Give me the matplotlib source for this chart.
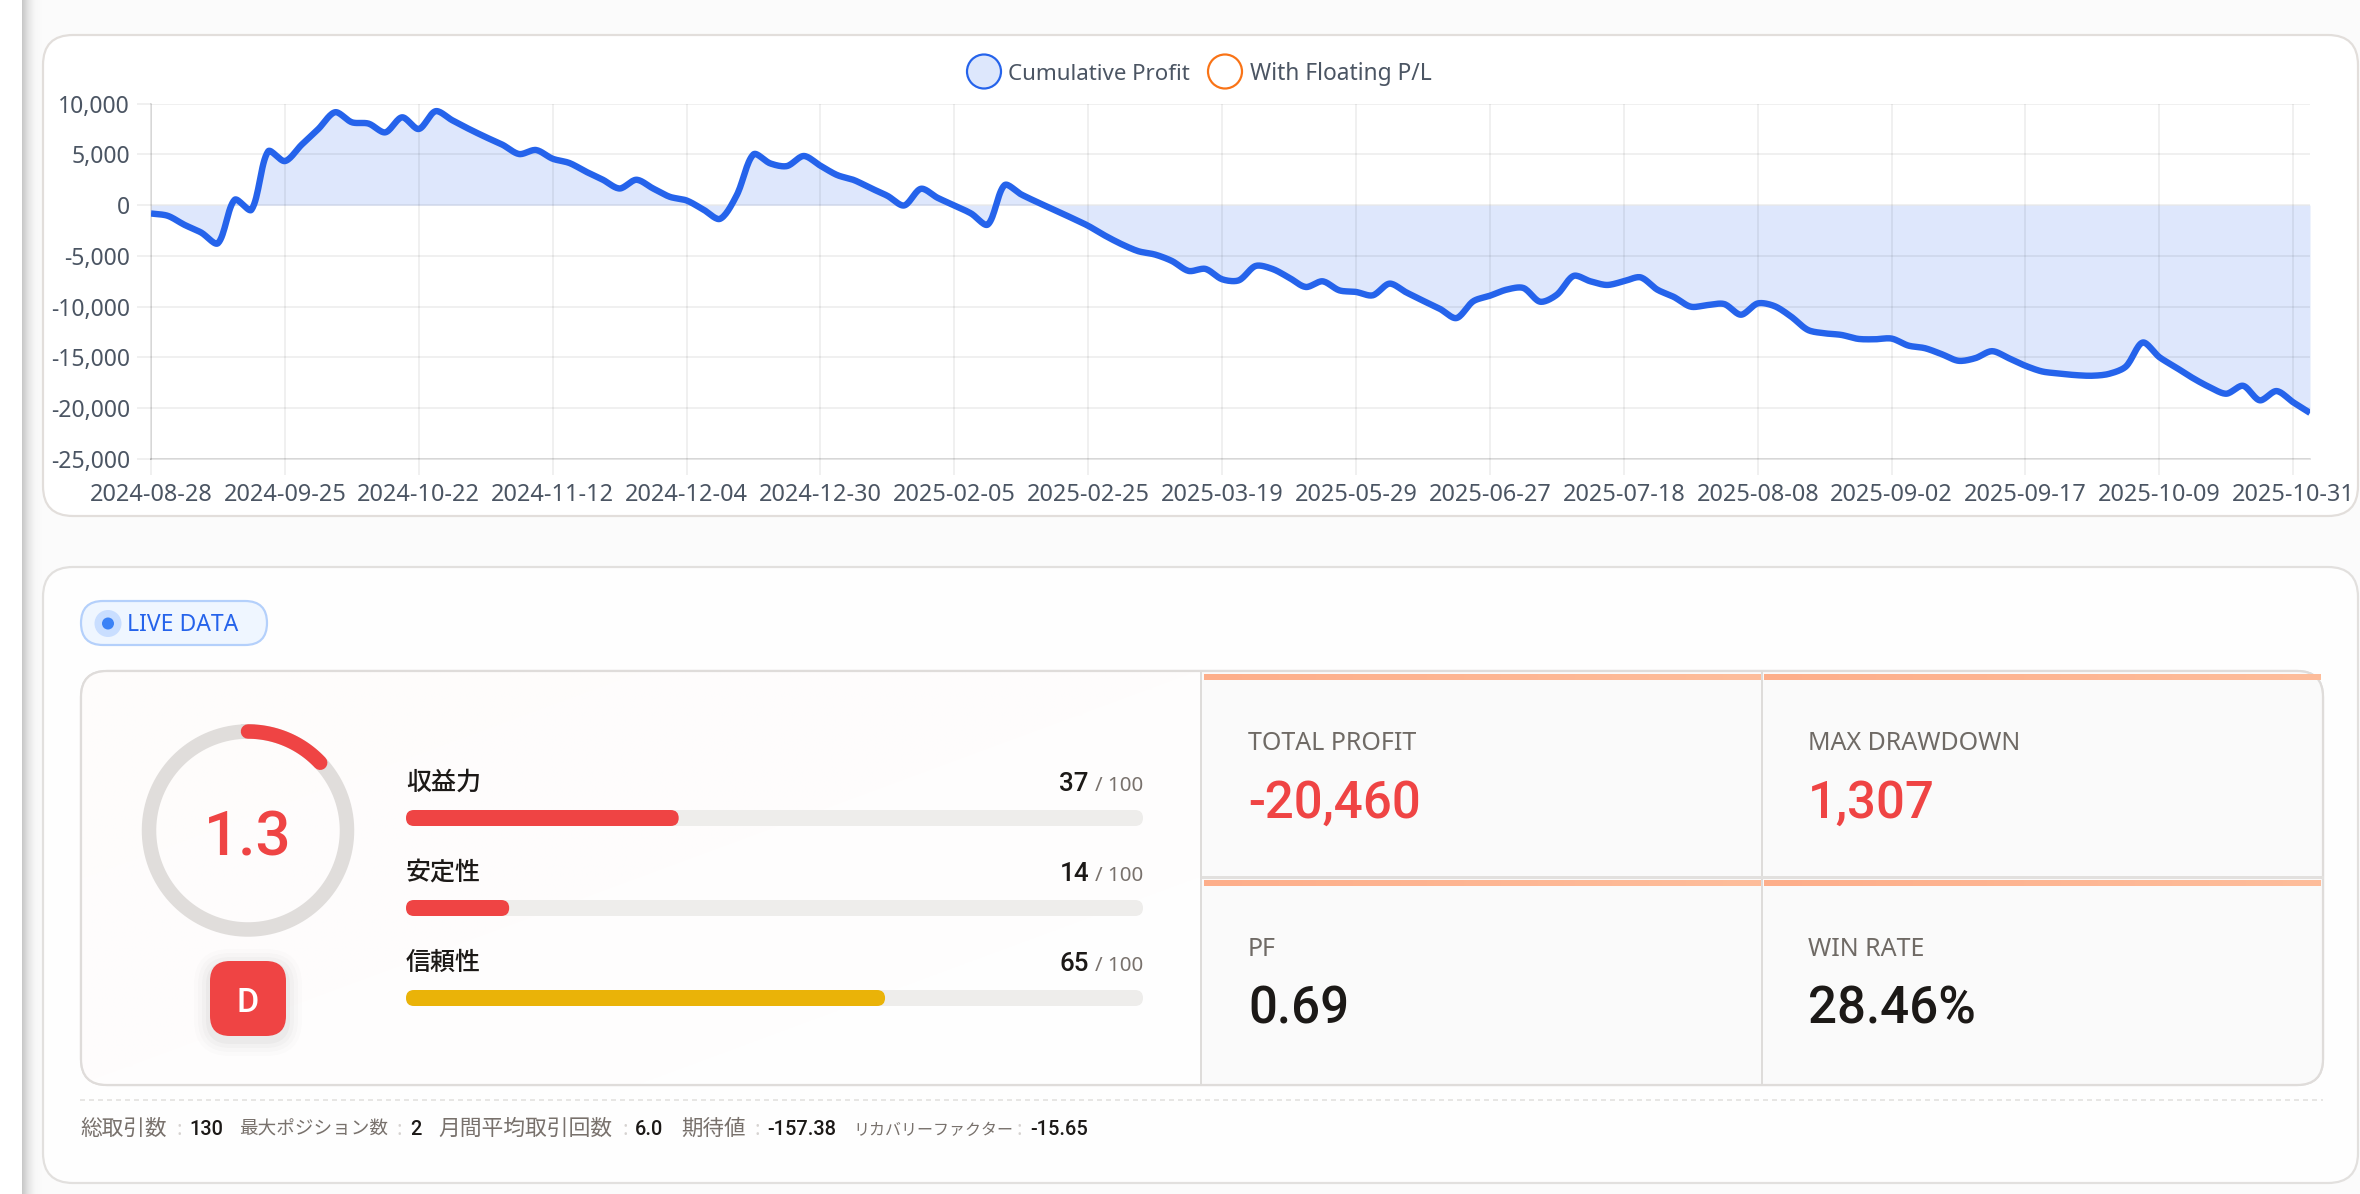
import numpy as np
import matplotlib
matplotlib.use("Agg")
import matplotlib.pyplot as plt
from matplotlib.patches import FancyBboxPatch, Circle, Rectangle
from matplotlib.colors import LinearSegmentedColormap

plt.rcParams['font.family'] = ['Noto Sans', 'Noto Sans CJK JP', 'DejaVu Sans']

# ---- chart data ----
cumulative_profit = [
    -822, -1050, -1940, -2700, -3750, 530, -460, 5300, 4340, 5950,
    7500, 9150, 8160, 8030, 7170, 8650, 7500, 9250, 8360, 7500,
    6700, 5950, 5030, 5430, 4570, 4150, 3290, 2500, 1640, 2500,
    1640, 820, 460, -430, -1350, 990, 5000, 4110, 3850, 4840,
    3880, 2960, 2470, 1680, 920, -30, 1610, 720, -30, -820,
    -1910, 1970, 1050, 260, -490, -1250, -2040, -3000, -3850, -4540,
    -4870, -5500, -6480, -6280, -7300, -7400, -5990, -6280, -7140, -8060,
    -7500, -8390, -8550, -8880, -7730, -8590, -9410, -10200, -11120, -9470,
    -8920, -8320, -8160, -9510, -8820, -6970, -7500, -7860, -7500, -7110,
    -8320, -9050, -10000, -9840, -9740, -10790, -9680, -9940, -10980, -12290,
    -12620, -12780, -13170, -13210, -13140, -13830, -14090, -14680, -15330, -15070,
    -14380, -15070, -15820, -16380, -16580, -16740, -16800, -16610, -15890, -13530,
    -14970, -15990, -17030, -17920, -18570, -17790, -19220, -18310, -19420, -20460,
]
date_labels = [
    "2024-08-28", "2024-09-25", "2024-10-22", "2024-11-12", "2024-12-04", "2024-12-30",
    "2025-02-05", "2025-02-25", "2025-03-19", "2025-05-29", "2025-06-27", "2025-07-18",
    "2025-08-08", "2025-09-02", "2025-09-17", "2025-10-09", "2025-10-31",
]
y_ticks = [10000, 5000, 0, -5000, -10000, -15000, -20000, -25000]
y_tick_labels = ["10,000", "5,000", "0", "-5,000", "-10,000", "-15,000", "-20,000", "-25,000"]

score = 1.3
grade = "D"
score_names = ["収益力", "安定性", "信頼性"]
score_values = [37, 14, 65]
stat_names = ["TOTAL PROFIT", "MAX DRAWDOWN", "PF", "WIN RATE"]
stat_values = ["-20,460", "1,307", "0.69", "28.46%"]

# ---- palette ----
BLUE = "#2563eb"
ORANGE = "#f97316"
RED = "#ef4444"
GOLD = "#eab308"
AXIS_TEXT = "#4b5563"
STONE_DARK = "#1c1917"
STONE_MID = "#78716c"
BORDER = "#e2dedb"
HEAVY = ["Roboto", "Noto Sans"]

W, H = 2360, 1194
fig = plt.figure(figsize=(W / 100, H / 100), dpi=100, facecolor="#fbfbfb")
bg = fig.add_axes([0, 0, 1, 1], zorder=0)
bg.set_xlim(0, W)
bg.set_ylim(H, 0)
bg.axis("off")


def put(x, y, s, px, color, ha="left", weight="normal", va="baseline", family=None):
    kw = {"family": family} if family else {}
    return bg.text(x, y, s, fontsize=px * 0.72, color=color, ha=ha, va=va, fontweight=weight, zorder=6, **kw)


def round_box(x0, y0, x1, y1, r, fc, ec="none", lw=0.0, z=1):
    p = FancyBboxPatch((x0, y0), x1 - x0, y1 - y0, boxstyle=f"round,pad=0,rounding_size={r}",
                       fc=fc, ec=ec, lw=lw * 0.72, zorder=z)
    bg.add_patch(p)
    return p


def gradient(x0, y0, x1, y1, colors, z=2, direction="h"):
    cmap = LinearSegmentedColormap.from_list("g", colors)
    ramp = np.linspace(0, 1, 256)
    if direction == "h":
        arr = ramp[None, :]
    elif direction == "v":
        arr = ramp[:, None]
    else:
        arr = (ramp[None, :] + ramp[:, None]) / 2
    return bg.imshow(arr, extent=(x0, x1, y1, y0), cmap=cmap, aspect="auto", zorder=z,
                     interpolation="bilinear", origin="upper")


# ---- page edge and cards ----
bg.add_patch(Rectangle((0, 0), 22, H, fc="#ffffff", ec="none", zorder=0.5))
gradient(22, 0, 42, H, ["#c6c6c6", "#e6e6e6", "#f8f8f8", "#fbfbfb"], z=0.5)
round_box(43, 35, 2358, 516, 30, "#ffffff", BORDER, 2.2)
round_box(43, 567, 2358, 1183, 30, "#fefefe", "#e2e0de", 2.2)

# ---- legend ----
bg.add_patch(Circle((984, 71.5), 17, fc="#dde7fc", ec=BLUE, lw=2.2 * 0.72, zorder=3))
bg.add_patch(Circle((1225, 71.5), 17, fc="#ffffff", ec=ORANGE, lw=2.2 * 0.72, zorder=3))
put(1008, 79.5, "Cumulative Profit", 22.3, AXIS_TEXT)
put(1250, 79.5, "With Floating P/L", 22.8, AXIS_TEXT)

# ---- cumulative profit chart ----
ax = fig.add_axes([151 / W, 1 - 459 / H, (2310 - 151) / W, (459 - 103.6) / H], zorder=2)
ax.patch.set_alpha(0)


def smooth_curve(values, tension=0.3, per_segment=16, x_px=16.74, y_px=1 / 98.6):
    """Bezier path through the points, with control arms scaled by neighbour distance."""
    n = len(values)
    px = np.arange(n) * x_px
    py = np.asarray(values, dtype=float) * y_px
    out_x, out_y = [], []
    after, before = np.zeros((n, 2)), np.zeros((n, 2))
    for i in range(n):
        a, c = max(i - 1, 0), min(i + 1, n - 1)
        d0 = np.hypot(px[i] - px[a], py[i] - py[a])
        d1 = np.hypot(px[c] - px[i], py[c] - py[i])
        total = d0 + d1
        s0, s1 = (d0 / total, d1 / total) if total else (0, 0)
        dx, dy = px[c] - px[a], py[c] - py[a]
        before[i] = px[i] - tension * s0 * dx, py[i] - tension * s0 * dy
        after[i] = px[i] + tension * s1 * dx, py[i] + tension * s1 * dy
    t = np.linspace(0, 1, per_segment, endpoint=False)[:, None]
    for i in range(n - 1):
        p0, p3 = np.array([px[i], py[i]]), np.array([px[i + 1], py[i + 1]])
        seg = (1 - t) ** 3 * p0 + 3 * (1 - t) ** 2 * t * after[i] + 3 * (1 - t) * t ** 2 * before[i + 1] + t ** 3 * p3
        out_x.append(seg[:, 0])
        out_y.append(seg[:, 1])
    out_x.append([px[-1]])
    out_y.append([py[-1]])
    return np.concatenate(out_x) / x_px, np.concatenate(out_y) / y_px


xs, ys = smooth_curve(cumulative_profit)
ax.fill_between(xs, ys, 0, color=BLUE, alpha=0.15, lw=0, zorder=1)
ax.plot(xs, ys, color=BLUE, lw=6.4 * 0.72, zorder=3, solid_joinstyle="round", solid_capstyle="butt")
ax.set_xlim(0, len(cumulative_profit) - 1)
ax.set_ylim(-25000, 10000)
ax.set_xticks(np.arange(0, len(cumulative_profit), 8), labels=date_labels)
ax.set_yticks(y_ticks, labels=y_tick_labels)
ax.set_axisbelow("line")
ax.grid(True, color="#000000", alpha=0.06, lw=2 * 0.72)
grid_rgba = (0, 0, 0, 0.06)
ax.tick_params(axis="x", length=16 * 0.72, width=2 * 0.72, color=grid_rgba, pad=6,
               labelsize=23.5 * 0.72, labelcolor=AXIS_TEXT)
ax.tick_params(axis="y", length=14 * 0.72, width=2 * 0.72, color=grid_rgba, pad=5,
               labelsize=23 * 0.72, labelcolor=AXIS_TEXT)
for label in ax.get_yticklabels():
    label.set_verticalalignment("center_baseline")
for name, spine in ax.spines.items():
    spine.set_visible(name in ("left", "bottom"))
    spine.set_color((0, 0, 0, 0.1))
    spine.set_linewidth(2 * 0.72)

# ---- live badge ----
round_box(81, 601, 267, 645, 22, "#eff6ff", "#b4d0fb", 2.2, z=2)
bg.add_patch(Circle((108, 623.5), 13.5, fc="#c9deff", ec="none", zorder=3))
bg.add_patch(Circle((108, 623.5), 6, fc="#3b82f6", ec="none", zorder=4))
put(127, 631, "LIVE DATA", 23, BLUE)

# ---- score panel ----
panel = round_box(81, 671, 2323, 1085, 26, "#ffffff", "#dfdcda", 2.2, z=1.5)
shade = gradient(81, 671, 1201, 1085, ["#fefcfb", "#fefdfd", "#ffffff"], z=1.6, direction="d")
shade.set_clip_path(panel)
cells = gradient(1201, 671, 2323, 1085, ["#fafafa", "#fafafa"], z=1.6)
cells.set_clip_path(panel)
round_box(81, 671, 2323, 1085, 26, "none", "#dfdcda", 2.2, z=1.7)

# gauge
theta = np.linspace(0, 2 * np.pi, 400)
gauge_r = 99
gauge_c = (248, 830.5)
bg.plot(gauge_c[0] + gauge_r * np.sin(theta), gauge_c[1] - gauge_r * np.cos(theta),
        color="#e0dddb", lw=14.5 * 0.72, zorder=3)
arc = np.linspace(0, 2 * np.pi * score / 10, 80)
bg.plot(gauge_c[0] + gauge_r * np.sin(arc), gauge_c[1] - gauge_r * np.cos(arc),
        color=RED, lw=14.5 * 0.72, solid_capstyle="round", zorder=4)
put(248, 856, f"{score}", 62, RED, ha="center", weight="medium", family=HEAVY)

# grade badge with a soft drop shadow
for grow, alpha in [(16, 0.012), (12, 0.016), (8, 0.02), (4, 0.028)]:
    round_box(210 - grow, 965 - grow, 286 + grow, 1040 + grow, 20 + grow, (0, 0, 0, alpha), z=3)
round_box(210, 961, 286, 1036, 20, RED, z=4)
put(248, 1012, grade, 34, "#ffffff", ha="center", weight="medium", family=HEAVY)

# score bars
bar_x0, bar_x1 = 406, 1143
bar_tops = [810, 900, 990]
label_baselines = [791, 881, 971]
for name, val, top, base in zip(score_names, score_values, bar_tops, label_baselines):
    colour = GOLD if val >= 50 else RED
    round_box(bar_x0, top, bar_x1, top + 16, 8, "#eeedeb", z=3)
    round_box(bar_x0, top, bar_x0 + (bar_x1 - bar_x0) * val / 100, top + 16, 8, colour, z=4)
    put(bar_x0, base - 1, name, 25, STONE_DARK, weight="medium")
    put(1143, base, "/ 100", 20.5, STONE_MID, ha="right")
    put(1089, base, f"{val}", 26, STONE_DARK, ha="right", weight="medium", family=HEAVY)

# stat cells
col_lefts = [1204, 1764]
col_rights = [1761, 2321]
row_tops = [674, 880]
text_x = [1248, 1808]
name_base = [750, 956]
value_base = [818, 1024]
value_colours = [RED, RED, STONE_DARK, STONE_DARK]
k = 0
for r in range(2):
    for c in range(2):
        gradient(col_lefts[c], row_tops[r], col_rights[c], row_tops[r] + 6, ["#fdae8a", "#febd9b"], z=3)
        put(text_x[c], name_base[r], stat_names[k], 25, "#6f6a65")
        put(text_x[c], value_base[r], stat_values[k], 51, value_colours[k], weight="medium", family=HEAVY)
        k += 1
bg.plot([1201, 1201], [672, 1084], color="#dedcda", lw=2 * 0.72, zorder=3)
bg.plot([1761.5, 1761.5], [672, 1084], color="#dedcda", lw=2 * 0.72, zorder=3)
bg.plot([1203, 2322], [877, 877], color="#e2e0de", lw=3 * 0.72, zorder=3)

# ---- footer line ----
bg.plot([80, 2323], [1100, 1100], color="#e7e6e4", lw=2 * 0.72, ls=(0, (2.5, 2.0)), zorder=3)
LIGHT = "#d6d3d1"
footer_base = 1135
footer_labels = [
    (80.5, "総取引数", 21.7),
    (239, "最大ポジション数", 18.6),
    (438, "月間平均取引回数", 21.8),
    (681, "期待値", 21.5),
    (853, "リカバリーファクター", 16),
]
footer_colons = [176, 396, 622, 754, 1017]
footer_values = [(189, "130"), (410, "2"), (634.5, "6.0"), (767, "-157.38"), (1030, "-15.65")]
for (x, s, px), cx, (vx, v) in zip(footer_labels, footer_colons, footer_values):
    put(x, footer_base, s, px, STONE_MID)
    put(cx, footer_base, ":", 20, LIGHT)
    put(vx, footer_base, v, 20, STONE_DARK, weight="medium", family=HEAVY)

bg.set_xlim(0, W)
bg.set_ylim(H, 0)
fig.savefig("out.png", dpi=100, facecolor=fig.get_facecolor())
